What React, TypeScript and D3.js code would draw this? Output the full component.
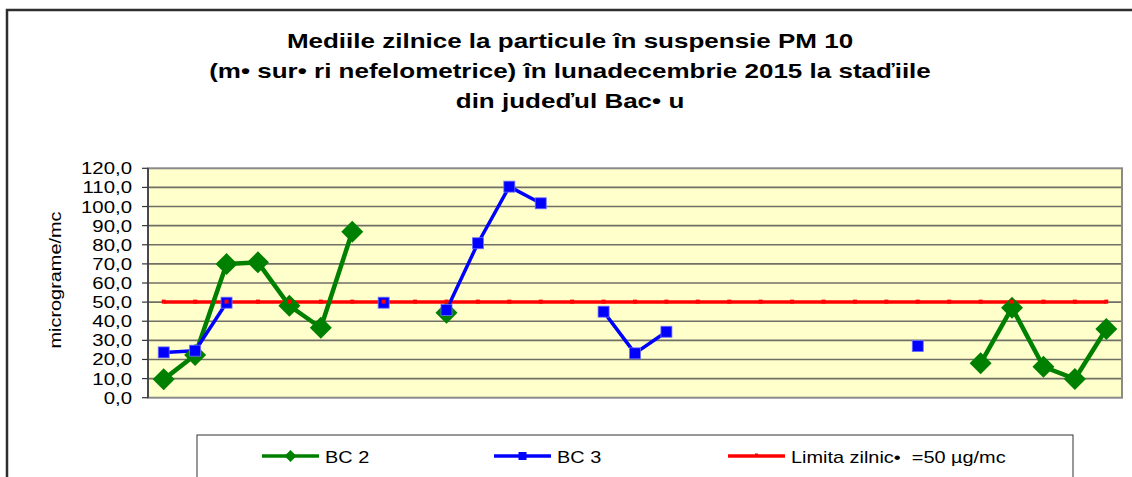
import React from "react";
import * as d3 from "d3";

const WIDTH = 1132;
const HEIGHT = 477;

// days of December 2015
const days = d3.range(1, 32).map((d) => String(d));

// BC 2 daily means (null = no data)
const bc2 = [
  9.6, 22.3, 69.9, 70.8, 48.1, 36.6, 86.8, null, null, 44.5,
  null, null, null, null, null, null, null, null, null, null,
  null, null, null, null, null, null, 18.0, 47.1, 16.2, 9.8, 35.9,
];

// BC 3 daily means
const bc3 = [
  23.7, 24.6, 49.7, null, null, null, null, 49.7, null, 45.9,
  80.8, 110.4, 101.7, null, 45.0, 23.2, 34.5, null, null, null,
  null, null, null, null, 27.0, null, null, null, null, null, null,
];

const limit = days.map(() => 50);

const yTicks = d3.range(0, 121, 10);

const titleLines = [
  "Mediile zilnice la particule în suspensie PM 10",
  "(m• sur• ri nefelometrice) în lunadecembrie 2015 la staďiile",
  "din judeďul Bac• u",
];

const legendItems = [
  { label: "BC 2", color: "#008000", marker: "diamond", x: 262 },
  { label: "BC 3", color: "#0000ff", marker: "square", x: 494 },
  { label: "Limita zilnic•\u00a0\u00a0=50 µg/mc", color: "#ff0000", marker: "dash", x: 728 },
];

const FONT = "'Liberation Sans', Arial, sans-serif";
const plot = { left: 148, right: 1122, top: 168.3, bottom: 397.7 };

function App() {
  const x = d3
    .scaleBand<string>()
    .domain(days)
    .range([plot.left, plot.right]);
  const cx = (i: number) => (x(days[i]) as number) + x.bandwidth() / 2;
  const y = d3.scaleLinear().domain([0, 120]).range([plot.bottom, plot.top]);

  const line = d3
    .line<number | null>()
    .defined((d) => d != null)
    .x((_, i) => cx(i))
    .y((d) => y(d as number));

  const diamond = (r: number) => `M0,${-r}L${r},0L0,${r}L${-r},0Z`;

  return (
    <svg
      width={WIDTH}
      height={HEIGHT}
      style={{ position: "absolute", left: 0, top: 0, display: "block", background: "#fff" }}
      fontFamily={FONT}
    >
      {/* outer chart border */}
      <rect x={7} y={10} width={1200} height={520} fill="#fff" stroke="#2e2e2e" strokeWidth={2.5} />

      {/* title */}
      {titleLines.map((t, i) => (
        <text
          key={i}
          transform={`translate(570,${48 + i * 30}) scale(1.3,1)`}
          textAnchor="middle"
          fontSize={20}
          fontWeight="bold"
          fill="#000"
        >
          {t}
        </text>
      ))}

      {/* plot area */}
      <rect
        x={plot.left}
        y={plot.top}
        width={plot.right - plot.left}
        height={plot.bottom - plot.top}
        fill="#ffffcc"
      />
      {yTicks.slice(1, -1).map((t) => (
        <line key={t} x1={plot.left} x2={plot.right} y1={y(t)} y2={y(t)} stroke="#6f6f66" strokeWidth={1.6} />
      ))}
      <rect
        x={plot.left}
        y={plot.top}
        width={plot.right - plot.left}
        height={plot.bottom - plot.top}
        fill="none"
        stroke="#8a8a8a"
        strokeWidth={2}
      />

      {/* y axis */}
      <line x1={plot.left} x2={plot.left} y1={plot.top} y2={plot.bottom} stroke="#333" strokeWidth={1.5} />
      {yTicks.map((t) => (
        <g key={t}>
          <line x1={plot.left - 6} x2={plot.left} y1={y(t)} y2={y(t)} stroke="#333" strokeWidth={1.2} />
          <text
            transform={`translate(132,${y(t) + 6}) scale(1.2,1)`}
            textAnchor="end"
            fontSize={17}
            fill="#000"
          >
            {d3.format(".1f")(t).replace(".", ",")}
          </text>
        </g>
      ))}
      <text
        transform="translate(61,280) rotate(-90) scale(1.17,1)"
        textAnchor="middle"
        fontSize={17}
        fill="#000"
      >
        micrograme/mc
      </text>

      {/* series lines */}
      <path d={line(limit) || ""} fill="none" stroke="#ff0000" strokeWidth={3.5} />
      <path d={line(bc2) || ""} fill="none" stroke="#008000" strokeWidth={4.5} strokeLinejoin="round" />
      <path d={line(bc3) || ""} fill="none" stroke="#0000ff" strokeWidth={3.5} strokeLinejoin="round" />

      {/* markers */}
      {bc2.map((v, i) =>
        v == null ? null : (
          <path key={`g${i}`} d={diamond(11)} transform={`translate(${cx(i)},${y(v)})`} fill="#008000" />
        )
      )}
      {bc3.map((v, i) =>
        v == null ? null : (
          <rect
            key={`b${i}`}
            x={cx(i) - 5.5}
            y={y(v) - 5.5}
            width={11}
            height={11}
            fill="#0000ff"
            stroke="#6f6fff"
            strokeWidth={0.8}
          />
        )
      )}
      {limit.map((v, i) => (
        <rect key={`r${i}`} x={cx(i) - 2} y={y(v) - 2.5} width={4} height={4} fill="#ff0000" />
      ))}

      {/* legend */}
      <rect x={197} y={435} width={876} height={70} fill="#fff" stroke="#333" strokeWidth={1} />
      {legendItems.map((it) => (
        <g key={it.label}>
          <line x1={it.x} x2={it.x + 57} y1={456} y2={456} stroke={it.color} strokeWidth={3.5} />
          {it.marker === "diamond" && (
            <path d={diamond(6)} transform={`translate(${it.x + 28.5},456)`} fill={it.color} />
          )}
          {it.marker === "square" && (
            <rect x={it.x + 24.5} y={452} width={8} height={8} fill={it.color} />
          )}
          {it.marker === "dash" && (
            <rect x={it.x + 27} y={453.5} width={3} height={3} fill={it.color} />
          )}
          <text
            transform={`translate(${it.x + 63},463) scale(1.17,1)`}
            fontSize={17}
            fill="#000"
          >
            {it.label}
          </text>
        </g>
      ))}
    </svg>
  );
}

export default App;
